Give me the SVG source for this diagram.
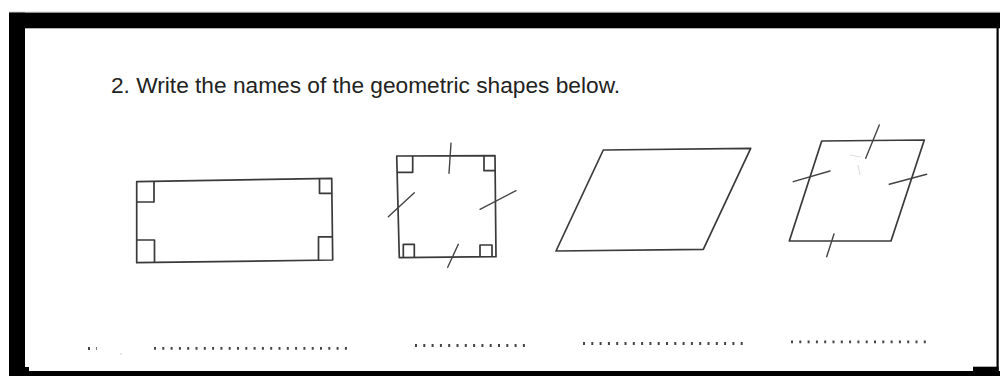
<svg xmlns="http://www.w3.org/2000/svg" width="1000" height="376" viewBox="0 0 1000 376">
<style>
.s{fill:none;stroke:#3a3a3a;stroke-width:1.7;stroke-linejoin:round}
.t{fill:none;stroke:#444;stroke-width:1.4;stroke-linecap:round}
.d{fill:none;stroke:#444;stroke-width:2.8;stroke-dasharray:2 6.3}
</style>
<rect width="1000" height="376" fill="#fff"/>
<g id="frame">
<line x1="9" y1="12.2" x2="1000" y2="12.2" stroke="#bbb" stroke-width="1"/>
<rect x="9" y="12.7" width="991" height="15.6" fill="#000"/>
<rect x="9" y="12.7" width="16" height="363.3" fill="#000"/>
<rect x="996.5" y="28" width="2.2" height="348" fill="#000"/>
<rect x="9" y="371" width="991" height="5" fill="#000"/>
<rect x="25" y="367" width="4" height="4.5" fill="#000"/>
<rect x="973" y="366.7" width="25.5" height="4.8" fill="#000"/>
</g>
<g id="title">
<text x="111" y="93" font-family="Liberation Sans, Arial, sans-serif" font-size="22.7" fill="#222">2. Write the names of the geometric shapes below.</text>
</g>
<g id="rectangle">
<polygon class="s" points="136.7,181.7 331.7,178.3 332.7,260 136.7,262.7"/>
<polyline class="s" points="137,202 154,202 154,181.5"/>
<polyline class="s" points="319.5,178.5 319.5,193.3 332,193.3"/>
<polyline class="s" points="137,240 154.5,240 154.5,262.5"/>
<polyline class="s" points="318.5,260.2 318.5,236.8 332.5,236.8"/>
</g>
<g id="square">
<polygon class="s" points="396.7,156 495,155.7 496,256.7 399.3,257.7"/>
<polyline class="s" points="397,172.3 412.7,172.3 412.7,156"/>
<polyline class="s" points="484,155.8 484,170.7 495.2,170.7"/>
<polyline class="s" points="403.3,257.5 403.3,244.3 414.3,244.3 414.3,257.4"/>
<polyline class="s" points="480,257 480,245 492,245 492,256.8"/>
<line class="t" x1="451" y1="143.3" x2="449" y2="173.3"/>
<line class="t" x1="388.3" y1="216.7" x2="414.3" y2="192.7"/>
<line class="t" x1="480" y1="209.3" x2="516" y2="190.7"/>
<line class="t" x1="447.7" y1="267.3" x2="458.3" y2="244.3"/>
</g>
<g id="parallelogram">
<polygon class="s" points="603.3,150 750.7,148.3 703.3,249.3 556,251"/>
</g>
<g id="rhombus">
<polygon class="s" points="821.7,141 924.3,140 891,241 789.3,241" stroke="#4a4a4a" stroke-width="1.5"/>
<line class="t" x1="879.3" y1="125" x2="865.7" y2="158.3"/>
<line class="t" x1="793.3" y1="181.7" x2="830" y2="171"/>
<line class="t" x1="889.3" y1="184.3" x2="926.7" y2="174.3"/>
<line class="t" x1="826.7" y1="256.7" x2="834" y2="234"/>
<path d="M850,155 L861,157 M858,165 L860,175" fill="none" stroke="#ddd" stroke-width="1.2"/>
</g>
<g id="blanks">
<line class="d" x1="88" y1="348.5" x2="97" y2="348.5"/>
<circle cx="121" cy="354" r="0.8" fill="#ccc"/>
<line class="d" x1="154" y1="348.3" x2="347" y2="348.3"/>
<line class="d" x1="415" y1="345.5" x2="528" y2="345.5"/>
<line class="d" x1="583" y1="343.5" x2="743" y2="343.5"/>
<line class="d" x1="791" y1="341.8" x2="927" y2="341.8"/>
</g>
</svg>
